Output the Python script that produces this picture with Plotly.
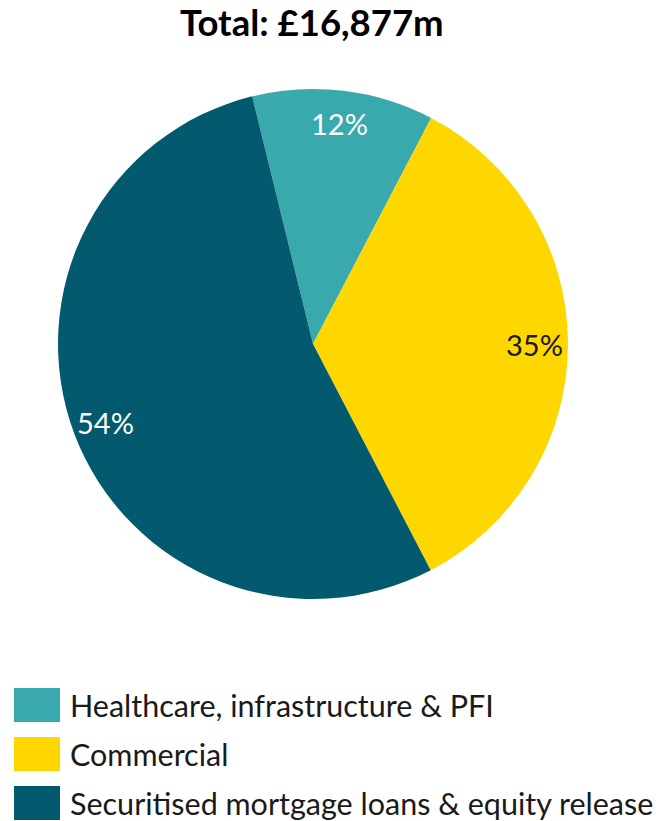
import math
import plotly.graph_objects as go

categories = ["Healthcare, infrastructure & PFI", "Commercial", "Securitised mortgage loans & equity release"]
values = [1941, 5856, 9080]
pct_labels = ["12%", "35%", "54%"]
colors = ["#3AA9AE", "#FFD700", "#03596D"]
label_colors = ["white", "#1a1a1a", "white"]
title_text = "Total: £16,877m"

W, H = 656, 821
FONT = "Lato"
cx, cy, R = 313, 344, 255
rotation = -13.8

fig = go.Figure(go.Pie(
    labels=categories, values=values, sort=False, direction="clockwise",
    rotation=rotation, marker=dict(colors=colors, line=dict(width=0)),
    textinfo="none", hoverinfo="label+percent", showlegend=False,
    domain=dict(x=[(cx - R) / W, (cx + R) / W], y=[1 - (cy + R) / H, 1 - (cy - R) / H]),
))

annotations = []
total = sum(values)
cum = 0
for v, t, c in zip(values, pct_labels, label_colors):
    mid = rotation + (cum + v / 2) / total * 360
    cum += v
    a = math.radians(mid)
    x = cx + 0.87 * R * math.sin(a)
    y = cy - 0.87 * R * math.cos(a)
    annotations.append(dict(x=x / W, y=1 - y / H, xref="paper", yref="paper", text=t, showarrow=False,
                            font=dict(family=FONT, size=29, color=c), xanchor="center", yanchor="middle"))

annotations.append(dict(x=312 / W, y=1 - 22 / H, xref="paper", yref="paper", text="<b>" + title_text + "</b>",
                        showarrow=False, font=dict(family=FONT, size=36.5, color="black"),
                        xanchor="center", yanchor="middle"))

shapes = []
row_y = [705, 754, 803]
for name, col, ry in zip(categories, colors, row_y):
    shapes.append(dict(type="rect", xref="paper", yref="paper", x0=14 / W, x1=60 / W,
                       y0=1 - (ry + 17) / H, y1=1 - (ry - 17) / H, fillcolor=col, line=dict(width=0)))
    annotations.append(dict(x=68 / W, y=1 - ry / H, xref="paper", yref="paper", text=name, showarrow=False,
                            font=dict(family=FONT, size=30.5, color="#1a1a1a"), xanchor="left", yanchor="middle"))

fig.update_layout(width=W, height=H, margin=dict(l=0, r=0, t=0, b=0), paper_bgcolor="white",
                  plot_bgcolor="white", annotations=annotations, shapes=shapes)
fig.write_html("out.html")
